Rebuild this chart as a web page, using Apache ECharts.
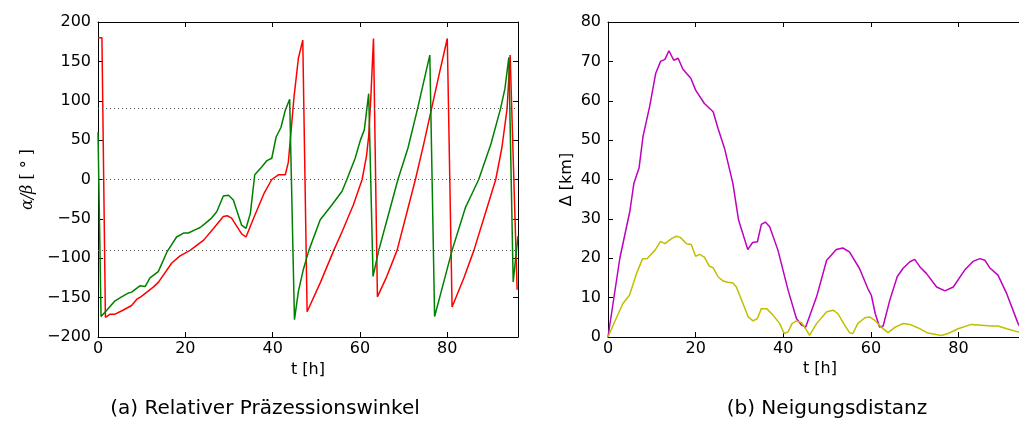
<!DOCTYPE html>
<html>
<head>
<meta charset="utf-8">
<script src="https://cdn.jsdelivr.net/npm/echarts@6/dist/echarts.min.js"></script>
<style>
html,body{margin:0;padding:0;background:#fff;}
#c{width:1019px;height:421px;}
</style>
</head>
<body>
<div id="c"></div>
<script>
// ---- Data (a): relative precession angle alpha (red) and beta (green) ----
const tAlpha = [0, 0.9, 1.7, 2.8, 3.9, 5.7, 7.7, 8.9, 9.8, 12.8, 13.9, 16.9, 18.8, 21.1, 24.2, 26.5, 28.7, 29.6, 30.6, 32.9, 33.9, 35.8, 38.0, 39.8, 41.3, 42.9, 43.6, 44.9, 45.9, 46.9, 47.9, 51.0, 54.0, 56.0, 58.5, 60.5, 61.5, 62.0, 62.5, 63.1, 64.0, 66.0, 68.5, 70.6, 72.7, 74.6, 76.4, 78.2, 80.0, 81.1, 83.8, 86.1, 88.6, 91.1, 92.5, 93.7, 94.4, 96.0];
const alpha = [180, 180, -175, -171, -171, -166, -160, -152, -149, -136, -130, -106, -97, -90, -77, -62, -47, -46, -49, -69, -73, -47, -18, 0, 6, 6, 22, 105, 154, 177, -168, -130, -90, -65, -32, 0, 30, 55, 105, 179, -149, -125, -90, -45, 0, 45, 90, 135, 179, -162, -125, -90, -45, 0, 40, 90, 158, -140];
const tBeta = [0, 0.7, 2.0, 3.9, 5.4, 7.0, 7.7, 9.6, 10.8, 11.9, 13.8, 15.8, 18.0, 19.6, 20.7, 22.2, 23.4, 24.5, 26.0, 27.2, 28.7, 29.9, 31.0, 32.9, 33.9, 34.9, 35.9, 37.5, 38.7, 39.8, 40.8, 41.9, 42.9, 43.9, 45.0, 45.9, 47.0, 48.3, 50.9, 53.6, 55.9, 57.0, 58.9, 60.1, 61.0, 62.0, 63.0, 64.3, 66.5, 68.7, 71.0, 73.2, 76.0, 77.1, 79.2, 81.1, 84.2, 85.5, 87.2, 90.0, 92.2, 93.2, 94.1, 95.1, 96.2];
const beta = [60, -174, -166, -154, -149, -144, -143, -135, -136, -125, -117, -92, -73, -68, -68, -64, -61, -56, -49, -41, -21, -20, -26, -58, -62, -43, 6, 16, 24, 27, 54, 66, 88, 102, -178, -142, -115, -90, -51, -32, -15, 0, 27, 50, 63, 109, -123, -90, -45, 0, 40, 90, 158, -174, -130, -90, -35, -20, 0, 45, 90, 115, 155, -130, -72];
const refLinesA = [90, 0, -90];
const yTicksA = {min: -200, max: 200, step: 50};
const xTicksA = {min: 0, max: 96.2, step: 20};

// ---- Data (b): inclination distance (magenta, yellow) ----
const tDeltaM = [0, 2.7, 5, 5.9, 7.1, 8, 9.5, 10.9, 12, 13, 13.9, 15, 16, 17.1, 18.9, 20, 22, 24, 25.1, 26.6, 28.5, 29.8, 31.9, 33, 34.1, 35, 35.9, 36.9, 38.8, 41.1, 43, 44.2, 45.1, 47.6, 49.9, 51, 52.1, 53.6, 55.1, 57.4, 59.3, 60.1, 61, 62, 62.8, 64.3, 66, 67.3, 68.9, 70, 71.2, 72.7, 75, 76.9, 78.8, 81.4, 83.3, 84.9, 86, 87.1, 89, 91, 93.6, 95];
const deltaM = [0, 20, 32, 39, 43, 51, 58.5, 67, 70, 70.5, 72.7, 70.3, 70.8, 68, 65.7, 62.7, 59.3, 57.2, 53, 47.9, 39, 29.7, 22.2, 24, 24.2, 28.6, 29.2, 28, 22, 11.9, 4.7, 3, 2.5, 10.2, 19.5, 20.8, 22.2, 22.6, 21.6, 17.4, 12.3, 10.6, 5.9, 2.5, 2.8, 9.3, 15.3, 17.4, 19.1, 19.7, 17.8, 16.1, 12.7, 11.7, 12.7, 17, 19.2, 19.9, 19.5, 17.6, 15.7, 11, 3.4, 0.5];
const tDeltaY = [0, 1.5, 3.4, 4.9, 6.5, 7.9, 8.9, 10.7, 12, 13, 14.5, 15.6, 16.5, 17.9, 19, 20, 20.9, 22, 23.1, 24, 25.1, 26.3, 27.4, 28.5, 29.3, 30.8, 32, 33.1, 34.1, 35, 36.2, 37.7, 39.2, 40.2, 41.1, 42, 43, 44.2, 45.1, 46, 47.6, 49.9, 51.4, 52.5, 54, 55.2, 55.9, 57, 58.6, 59.7, 60.9, 62.4, 63.9, 65.4, 67.3, 68.9, 70.8, 73, 76.1, 77.6, 79.9, 82.9, 85.2, 87.5, 89, 91, 93.6, 95];
const deltaY = [0, 3.8, 8.5, 10.6, 16.1, 19.9, 19.9, 22, 24.3, 23.7, 25, 25.6, 25.3, 23.7, 23.5, 20.5, 21, 20.3, 18, 17.6, 15.3, 14.2, 13.9, 13.7, 12.7, 8.5, 5.1, 4.1, 4.7, 7.2, 7.2, 5.5, 3.4, 0.9, 1.3, 3.4, 4.1, 3.6, 2.1, 0.4, 3.4, 6.4, 6.8, 5.9, 3, 1, 0.9, 3.4, 4.9, 5.1, 4.2, 2.5, 1.1, 2.4, 3.4, 3.2, 2.3, 1, 0.4, 0.9, 2.1, 3.2, 3, 2.8, 2.8, 2.1, 1.3, 0.8];
const yTicksB = {min: 0, max: 80, step: 10};
// panel (b) is cut off by the page edge: only t up to ~93.8 is visible
const xTicksB = {min: 0, max: 93.8, step: 20};

const captionA = '(a) Relativer Präzessionswinkel';
const captionB = '(b) Neigungsdistanz';

const pairs = (ts, vs) => ts.map((t, i) => [t, vs[i]]);
const FONT = 'DejaVu Sans';
const minus = v => String(v).replace('-', '\u2212');

function xAx(grid, ticks, top, withName) {
  return {
    type: 'value', gridIndex: grid, position: top ? 'top' : 'bottom',
    min: ticks.min, max: ticks.max, interval: ticks.step,
    axisLine: {show: true, onZero: false, lineStyle: {color: '#000', width: 1}},
    axisTick: {show: true, inside: true, length: 5, lineStyle: {color: '#000'}},
    axisLabel: {show: !top, showMaxLabel: false, margin: 4, fontFamily: FONT, fontSize: 16, color: '#000', formatter: minus},
    splitLine: {show: false},
    name: withName ? 't [h]' : '', nameLocation: 'middle', nameGap: 24,
    nameTextStyle: {fontFamily: FONT, fontSize: 16, color: '#000'}
  };
}
function yAx(grid, right, ticks, name, nameGap, nameStyle) {
  return {
    type: 'value', gridIndex: grid, position: right ? 'right' : 'left',
    min: ticks.min, max: ticks.max, interval: ticks.step,
    axisLine: {show: true, onZero: false, lineStyle: {color: '#000', width: 1}},
    axisTick: {show: true, inside: true, length: 5, lineStyle: {color: '#000'}},
    axisLabel: {show: !right, margin: 7, fontFamily: FONT, fontSize: 16, color: '#000', formatter: minus},
    splitLine: {show: false},
    name: right ? '' : name, nameLocation: 'middle', nameGap: nameGap,
    nameTextStyle: nameStyle
  };
}

const chart = echarts.init(document.getElementById('c'), null, {renderer: 'canvas'});
chart.setOption({
  animation: false,
  backgroundColor: '#fff',
  grid: [
    {left: 98, top: 22, width: 420, height: 315, show: false, containLabel: false},
    {left: 608, top: 22, width: 411, height: 315, show: false, containLabel: false}
  ],
  xAxis: [xAx(0, xTicksA, false, true), xAx(0, xTicksA, true, false), xAx(1, xTicksB, false, false), xAx(1, xTicksB, true, false)],
  yAxis: [
    yAx(0, false, yTicksA, '{i|α/β}{n| [ ° ]}', 62, {color: '#000', rich: {
      i: {fontFamily: 'DejaVu Serif', fontStyle: 'italic', fontSize: 16, color: '#000'},
      n: {fontFamily: 'DejaVu Serif', fontSize: 16, color: '#000'}}}),
    yAx(0, true, yTicksA, '', 0, {}),
    yAx(1, false, yTicksB, 'Δ [km]', 33, {fontFamily: FONT, fontSize: 16, color: '#000'})
  ],
  series: [
    {
      type: 'line', xAxisIndex: 0, yAxisIndex: 0, data: pairs(tAlpha, alpha),
      showSymbol: false, lineStyle: {color: '#ff0000', width: 1.5}, itemStyle: {color: '#ff0000'},
      markLine: {
        silent: true, symbol: ['none', 'none'], label: {show: false},
        lineStyle: {color: '#555', type: [1, 3], width: 1},
        data: refLinesA.map(v => ({yAxis: v}))
      }
    },
    {
      type: 'line', xAxisIndex: 0, yAxisIndex: 0, data: pairs(tBeta, beta),
      showSymbol: false, lineStyle: {color: '#008000', width: 1.5}, itemStyle: {color: '#008000'}
    },
    {
      type: 'line', xAxisIndex: 2, yAxisIndex: 2, data: pairs(tDeltaM, deltaM),
      showSymbol: false, lineStyle: {color: '#bf00bf', width: 1.5}, itemStyle: {color: '#bf00bf'}
    },
    {
      type: 'line', xAxisIndex: 2, yAxisIndex: 2, data: pairs(tDeltaY, deltaY),
      showSymbol: false, lineStyle: {color: '#bfbf00', width: 1.5}, itemStyle: {color: '#bfbf00'}
    }
  ],
  graphic: [
    {type: 'text', x: 265, y: 409, style: {text: captionA, fontFamily: FONT, fontSize: 20, fill: '#000', align: 'center', verticalAlign: 'middle'}},
    {type: 'text', x: 827, y: 409, style: {text: captionB, fontFamily: FONT, fontSize: 20, fill: '#000', align: 'center', verticalAlign: 'middle'}},
    {type: 'text', x: 820, y: 369, style: {text: 't [h]', fontFamily: FONT, fontSize: 16, fill: '#000', align: 'center', verticalAlign: 'middle'}}
  ]
});
</script>
</body>
</html>
